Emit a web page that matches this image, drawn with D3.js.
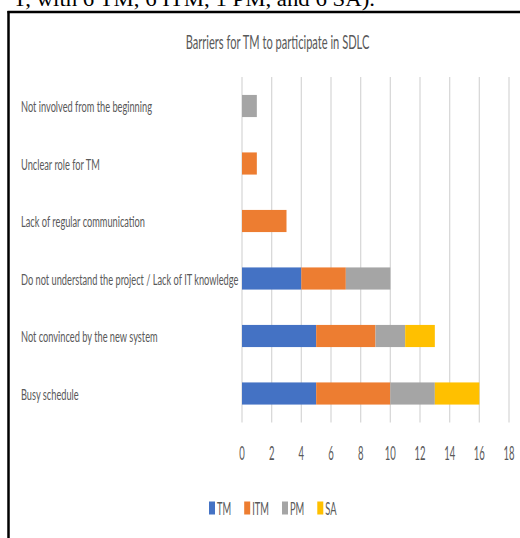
<!DOCTYPE html>
<html><head><meta charset="utf-8">
<script src="https://cdn.jsdelivr.net/npm/d3@7"></script>
<style>html,body{margin:0;padding:0;background:#fff;overflow:hidden}</style>
</head><body>
<svg id="c" width="520" height="538"></svg>
<script>
const categories = ["Not involved from the beginning","Unclear role for TM","Lack of regular communication","Do not understand the project / Lack of IT knowledge","Not convinced by the new system","Busy schedule"];
const seriesNames = ["TM","ITM","PM","SA"];
const TM  = [0,0,0,4,5,5];
const ITM = [0,1,3,3,4,5];
const PM  = [1,0,0,3,2,3];
const SA  = [0,0,0,0,2,3];
const tickValues = [0,2,4,6,8,10,12,14,16,18];
const colors = ["#4472C4","#ED7D31","#A5A5A5","#FFC000"];
const title = "Barriers for TM to participate in SDLC";
const caption = "T, with 6 TM, 6 ITM, 1 PM, and 6 SA).";

const svg = d3.select("#c");
const FONT = "Lato, 'Open Sans', sans-serif";
const grey = "#595959";

const table = categories.map((c,i)=>({cat:c, TM:TM[i], ITM:ITM[i], PM:PM[i], SA:SA[i]}));
const stack = d3.stack().keys(seriesNames)(table);

const x = d3.scaleLinear().domain([0,18]).range([242,509]);
const y = d3.scaleBand().domain(categories).range([77.25,422.25]).paddingInner(0.615).paddingOuter(0.3075);
const color = d3.scaleOrdinal().domain(seriesNames).range(colors);

// caption (cut off top text)
svg.append("text").attr("x",13).attr("y",6).text(caption)
  .attr("font-family","'Liberation Serif', 'Times New Roman', serif").attr("font-size",21)
  .attr("textLength",362).attr("lengthAdjust","spacingAndGlyphs").attr("fill","#000");

// frame
svg.append("line").attr("x1",7.5).attr("x2",520).attr("y1",12).attr("y2",12).attr("stroke","#000").attr("stroke-width",2.5);
svg.append("line").attr("x1",8.5).attr("x2",8.5).attr("y1",11).attr("y2",538).attr("stroke","#000").attr("stroke-width",2.5);

function ctext(g, str, tx, ty, size, k, anchor){
  return g.append("text").attr("transform",`translate(${tx},${ty}) scale(${k},1)`)
    .attr("text-anchor",anchor||"start").attr("dominant-baseline","central")
    .attr("font-family",FONT).attr("font-size",size).attr("fill",grey).text(str);
}

// title
ctext(svg, title, 277.5, 42, 18.5, 0.6, "middle");

// gridlines
svg.append("g").selectAll("line").data(tickValues).join("line")
  .attr("x1",d=>x(d)).attr("x2",d=>x(d)).attr("y1",77).attr("y2",422.5)
  .attr("stroke","#d9d9d9").attr("stroke-width",1.3);

// bars
svg.append("g").selectAll("g").data(stack).join("g").attr("fill",d=>color(d.key))
  .selectAll("rect").data(d=>d).join("rect")
  .attr("x",d=>x(d[0])).attr("width",d=>x(d[1])-x(d[0]))
  .attr("y",d=>y(d.data.cat)).attr("height",y.bandwidth());

// category labels
const lg = svg.append("g");
categories.forEach(c=>ctext(lg, c, 21, y(c)+y.bandwidth()/2, 16, 0.578, "start"));

// x tick labels
const tg = svg.append("g");
tickValues.forEach(t=>ctext(tg, String(t), x(t), 452, 19, 0.5, "middle"));

// legend
const leg = svg.append("g");
let lx = 209;
seriesNames.forEach(s=>{
  leg.append("rect").attr("x",lx).attr("y",501.5).attr("width",6).attr("height",13).attr("fill",color(s));
  const t = ctext(leg, s, lx+8, 508, 17, 0.55, "start");
  const w = t.node().getComputedTextLength()*0.55;
  lx += 6 + 2 + w + 13;
});
</script>
</body></html>
